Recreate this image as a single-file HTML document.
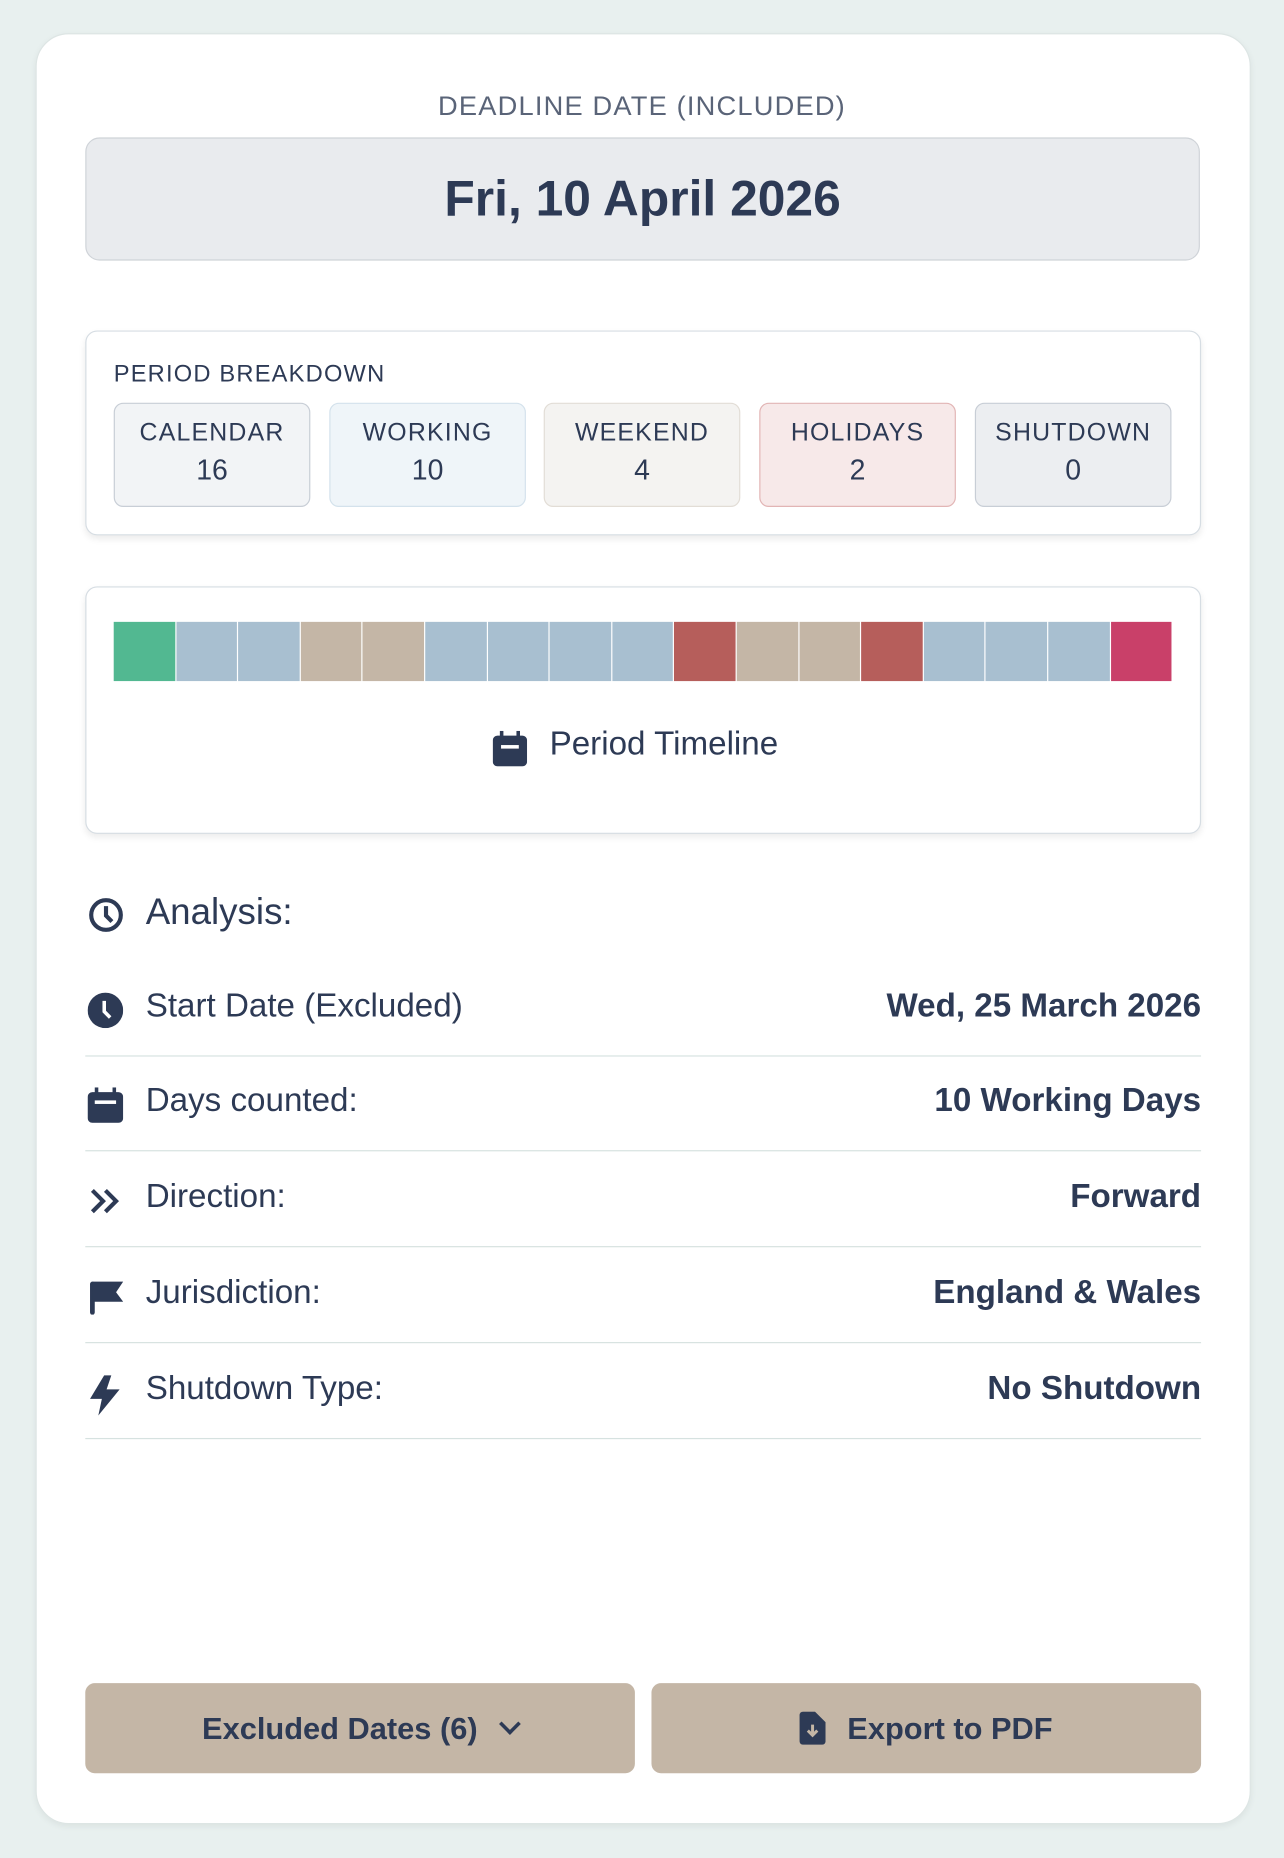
<!DOCTYPE html>
<html><head><meta charset="utf-8"><style>
html,body{margin:0;padding:0;width:1284px;height:1858px;overflow:hidden;background:#e8f0ef;font-family:"Liberation Sans",sans-serif;color:#2d3a55}
#w{position:absolute;left:0;top:0;width:1084px;height:1568px;transform:scale(1.18450);transform-origin:0 0}
.a{position:absolute}
.card{left:30px;top:28px;width:1024px;height:1510px;background:#fff;border:1px solid #dde5e4;border-radius:28px;box-shadow:0 2px 6px rgba(0,0,0,.06)}
.ctr{text-align:center}
.box{border:1px solid #d6dde3;border-radius:10px;background:#fff;box-shadow:0 3px 6px rgba(0,0,0,.08)}
.mini{top:340px;width:164px;height:86px;border-radius:8px;text-align:center}
.mini .l{position:absolute;left:0;right:0;top:13px;font-size:21px;letter-spacing:1px;font-weight:500}
.mini .n{position:absolute;left:0;right:0;top:43px;font-size:24px}
.row{left:72px;width:942px;height:80px;border-bottom:1.5px solid #d6e2e0}
.row .t{position:absolute;left:51px;top:22px;font-size:28px}
.row .v{position:absolute;right:0;top:22px;font-size:28px;font-weight:bold}
.row svg{position:absolute;left:2px;top:27px}
.btn{top:1421px;height:76px;width:464px;background:#c4b6a6;border-radius:8px;font-size:26px;font-weight:bold;line-height:76px;text-align:center}
</style></head><body><div id="w">
<div class="a card"></div>
<div class="a ctr" style="left:30px;width:1024px;top:76px;font-size:23px;letter-spacing:1px;color:#5a6478">DEADLINE DATE (INCLUDED)</div>
<div class="a ctr" style="left:72px;top:116px;width:939px;height:102px;background:#e9ebee;border:1.5px solid #cfd3d8;border-radius:12px;font-size:42px;font-weight:bold;line-height:102px">Fri, 10 April 2026</div>

<div class="a box" style="left:72px;top:279px;width:940px;height:171px"></div>
<div class="a" style="left:96px;top:305px;font-size:20px;letter-spacing:1px">PERIOD BREAKDOWN</div>
<div class="a mini" style="left:96px;background:#f2f4f6;border:1.5px solid #c8ced6"><div class="l">CALENDAR</div><div class="n">16</div></div>
<div class="a mini" style="left:278px;background:#eff5f9;border:1.5px solid #d4e2ec"><div class="l">WORKING</div><div class="n">10</div></div>
<div class="a mini" style="left:459px;background:#f4f3f1;border:1.5px solid #e2ddd6"><div class="l">WEEKEND</div><div class="n">4</div></div>
<div class="a mini" style="left:641px;background:#f7e9e9;border:1.5px solid #e2b5b5"><div class="l">HOLIDAYS</div><div class="n">2</div></div>
<div class="a mini" style="left:823px;background:#eceef1;border:1.5px solid #c8ced6"><div class="l">SHUTDOWN</div><div class="n">0</div></div>

<div class="a box" style="left:72px;top:495px;width:940px;height:207px"></div>
<div class="a" style="left:96px;top:525px;width:893px;height:50px;display:flex;gap:1px;background:#fff">
<div style="flex:1;background:#52b891"></div><div style="flex:1;background:#a8bfd0"></div><div style="flex:1;background:#a8bfd0"></div><div style="flex:1;background:#c4b6a6"></div><div style="flex:1;background:#c4b6a6"></div><div style="flex:1;background:#a8bfd0"></div><div style="flex:1;background:#a8bfd0"></div><div style="flex:1;background:#a8bfd0"></div><div style="flex:1;background:#a8bfd0"></div><div style="flex:1;background:#b65e5b"></div><div style="flex:1;background:#c4b6a6"></div><div style="flex:1;background:#c4b6a6"></div><div style="flex:1;background:#b65e5b"></div><div style="flex:1;background:#a8bfd0"></div><div style="flex:1;background:#a8bfd0"></div><div style="flex:1;background:#a8bfd0"></div><div style="flex:1;background:#c94069"></div>
</div>
<svg class="a" style="left:416px;top:617px" width="29" height="30" viewBox="0 0 29 30"><rect x="0" y="4" width="29" height="26" rx="4" fill="#2d3a55"/><rect x="6" y="0" width="3" height="7" fill="#2d3a55"/><rect x="20" y="0" width="3" height="7" fill="#2d3a55"/><rect x="7" y="12" width="15" height="3" fill="#fff"/></svg>
<div class="a" style="left:464px;top:612px;font-size:28px;font-weight:500">Period Timeline</div>

<svg class="a" style="left:75px;top:758px" width="29" height="29" viewBox="0 0 29 29"><circle cx="14.5" cy="14.5" r="12.5" fill="none" stroke="#2d3a55" stroke-width="3.5"/><path d="M14.5 7v8l5 5" stroke="#2d3a55" stroke-width="3.5" fill="none"/></svg>
<div class="a" style="left:123px;top:752px;font-size:31px">Analysis:</div>

<div class="a row" style="top:811px"><svg width="30" height="30" viewBox="0 0 30 30"><circle cx="15" cy="15" r="15" fill="#2d3a55"/><path d="M14 7v9l5 5" stroke="#fff" stroke-width="3" fill="none"/></svg><div class="t">Start Date (Excluded)</div><div class="v">Wed, 25 March 2026</div></div>
<div class="a row" style="top:891px"><svg width="30" height="30" viewBox="0 0 30 30"><rect x="0" y="4" width="30" height="26" rx="4" fill="#2d3a55"/><rect x="6" y="0" width="3" height="7" fill="#2d3a55"/><rect x="21" y="0" width="3" height="7" fill="#2d3a55"/><rect x="6" y="11" width="18" height="3" fill="#fff"/></svg><div class="t">Days counted:</div><div class="v">10 Working Days</div></div>
<div class="a row" style="top:972px"><svg width="30" height="30" viewBox="0 0 30 30"><path d="M4 6l9 9-9 9M15 6l9 9-9 9" stroke="#2d3a55" stroke-width="3.5" fill="none"/></svg><div class="t">Direction:</div><div class="v">Forward</div></div>
<div class="a row" style="top:1053px"><svg width="30" height="30" viewBox="0 0 30 30"><rect x="2" y="2" width="4" height="28" rx="2" fill="#2d3a55"/><path d="M4 2h26l-6 9 6 8H4z" fill="#2d3a55"/></svg><div class="t">Jurisdiction:</div><div class="v">England &amp; Wales</div></div>
<div class="a row" style="top:1134px"><svg width="30" height="34" viewBox="0 0 30 34"><path d="M14 0L2 20h10l-3 14 18-22H16l4-12z" fill="#2d3a55"/></svg><div class="t">Shutdown Type:</div><div class="v">No Shutdown</div></div>

<div class="a btn" style="left:72px">Excluded Dates (6) <span style="display:inline-block;width:10px;height:10px;border-right:3.5px solid #2d3a55;border-bottom:3.5px solid #2d3a55;transform:rotate(45deg);margin-left:14px;position:relative;top:-6px"></span></div>
<div class="a btn" style="left:550px"><svg width="22" height="28" viewBox="0 0 22 28" style="vertical-align:-5px;margin-right:18px"><path d="M0 3a3 3 0 013-3h10l9 9v16a3 3 0 01-3 3H3a3 3 0 01-3-3z" fill="#2d3a55"/><path d="M11 11v9M7 16l4 4 4-4" stroke="#c4b6a6" stroke-width="2.5" fill="none"/></svg>Export to PDF</div>
</div></body></html>
